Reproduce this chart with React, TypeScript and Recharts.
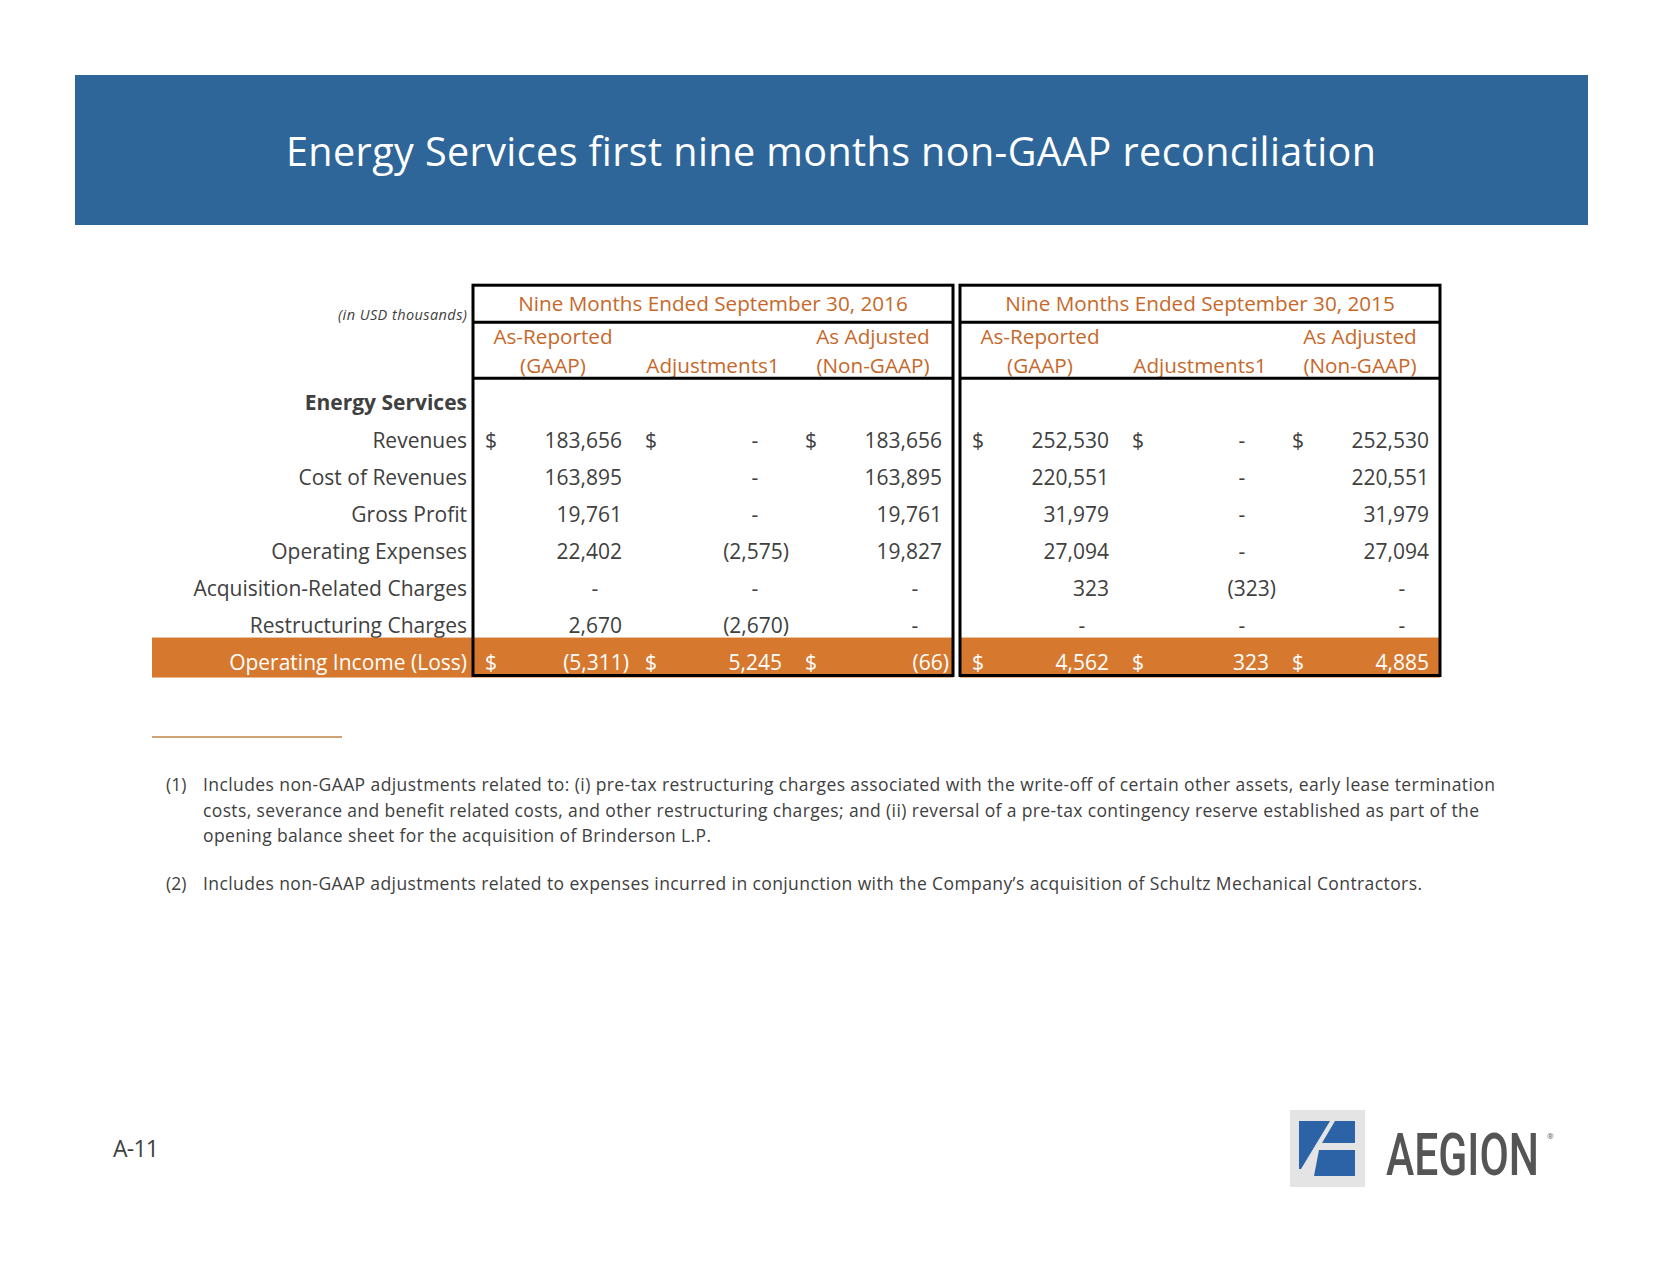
import React from 'react';
import { ScatterChart, Scatter, XAxis, YAxis } from 'recharts';

// ---------- content ----------
const TITLE = 'Energy Services first nine months non-GAAP reconciliation';
const UNITS_NOTE = '(in USD thousands)';
const PERIODS = ['Nine Months Ended September 30, 2016', 'Nine Months Ended September 30, 2015'];
const COLUMN_HEAD_TOP = ['As-Reported', '', 'As Adjusted'];
const COLUMN_HEAD_BOTTOM = ['(GAAP)', 'Adjustments1', '(Non-GAAP)'];
const ROW_LABELS = [
  'Energy Services',
  'Revenues',
  'Cost of Revenues',
  'Gross Profit',
  'Operating Expenses',
  'Acquisition-Related Charges',
  'Restructuring Charges',
  'Operating Income (Loss)',
];
// one value per row (null = blank, 0 = "-")
const Y2016_REPORTED = [null, 183656, 163895, 19761, 22402, 0, 2670, -5311];
const Y2016_ADJUSTMENTS = [null, 0, 0, 0, -2575, 0, -2670, 5245];
const Y2016_ADJUSTED = [null, 183656, 163895, 19761, 19827, 0, 0, -66];
const Y2015_REPORTED = [null, 252530, 220551, 31979, 27094, 323, 0, 4562];
const Y2015_ADJUSTMENTS = [null, 0, 0, 0, 0, -323, 0, 323];
const Y2015_ADJUSTED = [null, 252530, 220551, 31979, 27094, 0, 0, 4885];
const DOLLAR_ROWS = [1, 7];
const SECTION_ROW = 0;
const TOTAL_ROW = 7;
const ROW_TICKS = [0, 1, 2, 3, 4, 5, 6, 7];
const COL_TICKS = [0, 1, 2];

const FOOTNOTE_MARKS = ['(1)', '(2)'];
const FOOTNOTE_1 = [
  'Includes non-GAAP adjustments related to: (i) pre-tax restructuring charges associated with the write-off of certain other assets, early lease termination',
  'costs, severance and benefit related costs, and other restructuring charges; and (ii) reversal of a pre-tax contingency reserve established as part of the',
  'opening balance sheet for the acquisition of Brinderson L.P.',
];
const FOOTNOTE_2 = [
  'Includes non-GAAP adjustments related to expenses incurred in conjunction with the Company\u2019s acquisition of Schultz Mechanical Contractors.',
];
const PAGE_LABEL = 'A-11';
const LOGO_TEXT = 'AEGION';

// ---------- styles ----------
const FONT = "'Open Sans', 'Noto Sans', sans-serif";
const TEXT = '#404040';
const ORANGE = '#D6792F';
const ORANGE_TEXT = '#C5692B';
const BLUE = '#2E6699';
const FS = 21;
const HFS = 20.7;
const COL_W = 160;
const LABEL_W = 321;

type Cell = { c: number; r: number; v: number };

const buildCells = (cols: (number | null)[][]): Cell[] => {
  const out: Cell[] = [];
  cols.forEach((arr, c) =>
    arr.forEach((v, r) => {
      if (v !== null) out.push({ c, r, v });
    })
  );
  return out;
};

const CELLS_2016 = buildCells([Y2016_REPORTED, Y2016_ADJUSTMENTS, Y2016_ADJUSTED]);
const CELLS_2015 = buildCells([Y2015_REPORTED, Y2015_ADJUSTMENTS, Y2015_ADJUSTED]);

const fmt = (v: number) => {
  if (v === 0) return '-';
  const s = Math.abs(v).toLocaleString('en-US');
  return v < 0 ? `(${s})` : s;
};

const CellShape = (props: any) => {
  const { cx, cy, payload } = props;
  if (cx == null || cy == null || !payload) return <g />;
  const { r, v } = payload as Cell;
  const total = r === TOTAL_ROW;
  const fill = total ? '#FFFFFF' : TEXT;
  const x = v === 0 ? cx + 42 : v < 0 ? cx + 76 : cx + 69;
  return (
    <g>
      {total && <rect x={cx - COL_W / 2} y={cy - 25} width={COL_W} height={40} fill={ORANGE} />}
      {DOLLAR_ROWS.includes(r) && (
        <text x={cx - 68} y={cy} dy="0.36em" fontSize={FS} fontFamily={FONT} fill={fill} textAnchor="start">
          $
        </text>
      )}
      <text
        x={x}
        y={cy}
        dy="0.36em"
        fontSize={FS}
        fontFamily={FONT}
        fill={fill}
        textAnchor={v === 0 ? 'middle' : 'end'}
      >
        {fmt(v)}
      </text>
    </g>
  );
};

const RowTick = (props: any) => {
  const { x, y, payload } = props;
  const i = payload.value as number;
  const total = i === TOTAL_ROW;
  return (
    <g>
      {total && <rect x={x + 6 - LABEL_W} y={y - 25} width={LABEL_W} height={40} fill={ORANGE} />}
      <text
        x={x}
        y={y}
        dy="0.36em"
        textAnchor="end"
        fontSize={FS}
        fontFamily={FONT}
        fontWeight={i === SECTION_ROW ? 700 : 400}
        fill={total ? '#FFFFFF' : TEXT}
      >
        {ROW_LABELS[i]}
      </text>
    </g>
  );
};

const HeadTick = (props: any) => {
  const { x, y, payload } = props;
  const i = payload.value as number;
  return (
    <g>
      <text x={x} y={y - 47.5} dy="0.36em" textAnchor="middle" fontSize={HFS} fontFamily={FONT} fill={ORANGE_TEXT}>
        {COLUMN_HEAD_TOP[i]}
      </text>
      <text x={x} y={y - 18.8} dy="0.36em" textAnchor="middle" fontSize={HFS} fontFamily={FONT} fill={ORANGE_TEXT}>
        {COLUMN_HEAD_BOTTOM[i]}
      </text>
    </g>
  );
};

const PeriodTable = ({ cells, withLabels, width }: { cells: Cell[]; withLabels: boolean; width: number }) => (
  <ScatterChart width={width} height={397} margin={{ top: 39.3, right: 0, bottom: 0.9, left: 0 }}>
    <XAxis
      type="number"
      dataKey="c"
      domain={[-0.5, 2.5]}
      ticks={COL_TICKS}
      interval={0}
      allowDataOverflow
      orientation="top"
      height={60}
      tickSize={0}
      tickMargin={0}
      axisLine={false}
      tickLine={false}
      tick={HeadTick}
    />
    <YAxis
      type="number"
      dataKey="r"
      domain={[-0.5, 7.5]}
      reversed
      ticks={ROW_TICKS}
      interval={0}
      allowDataOverflow
      hide={!withLabels}
      width={LABEL_W}
      tickSize={0}
      tickMargin={6}
      axisLine={false}
      tickLine={false}
      tick={RowTick}
    />
    <Scatter data={cells} shape={CellShape} isAnimationActive={false} />
  </ScatterChart>
);

export default function App() {
  return (
    <div
      style={{
        position: 'absolute',
        left: 0,
        top: 0,
        width: 1662,
        height: 1275,
        background: '#FFFFFF',
        overflow: 'hidden',
        fontFamily: FONT,
      }}
    >
      <div style={{ position: 'absolute', left: 152, top: 285 }}>
        <PeriodTable cells={CELLS_2016} withLabels width={801} />
      </div>
      <div style={{ position: 'absolute', left: 960, top: 285 }}>
        <PeriodTable cells={CELLS_2015} withLabels={false} width={480} />
      </div>

      <svg
        width={1662}
        height={1275}
        style={{ position: 'absolute', left: 0, top: 0, pointerEvents: 'none' }}
        fontFamily={FONT}
      >
        {/* banner */}
        <rect x={75} y={75} width={1513} height={150} fill={BLUE} />
        <text x={831} y={166} textAnchor="middle" fontSize={39.5} fill="#FFFFFF" textLength={1090} lengthAdjust="spacing">
          {TITLE}
        </text>

        {/* table frames */}
        {[473, 960].map((x0) => (
          <g key={x0}>
            <rect x={x0} y={285.2} width={480} height={390.3} fill="none" stroke="#000" strokeWidth={3} />
            <line x1={x0} x2={x0 + 480} y1={322.3} y2={322.3} stroke="#000" strokeWidth={3} />
            <line x1={x0} x2={x0 + 480} y1={378.3} y2={378.3} stroke="#000" strokeWidth={3} />
          </g>
        ))}
        <text x={713} y={304} dy="0.36em" textAnchor="middle" fontSize={HFS} fill={ORANGE_TEXT}>
          {PERIODS[0]}
        </text>
        <text x={1200} y={304} dy="0.36em" textAnchor="middle" fontSize={HFS} fill={ORANGE_TEXT}>
          {PERIODS[1]}
        </text>
        <text
          x={467}
          y={314.5}
          dy="0.36em"
          textAnchor="end"
          fontSize={14.5}
          fontStyle="italic"
          fill={TEXT}
          textLength={129}
          lengthAdjust="spacing"
        >
          {UNITS_NOTE}
        </text>

        {/* footnotes */}
        <line x1={152} x2={342} y1={737} y2={737} stroke="#CFA274" strokeWidth={2} />
        <text x={166} y={790.7} fontSize={17.5} fill={TEXT}>
          {FOOTNOTE_MARKS[0]}
        </text>
        <text x={203} y={790.7} fontSize={17.5} fill={TEXT} textLength={1292} lengthAdjust="spacing">
          {FOOTNOTE_1[0]}
        </text>
        <text x={203} y={816.5} fontSize={17.5} fill={TEXT} textLength={1276} lengthAdjust="spacing">
          {FOOTNOTE_1[1]}
        </text>
        <text x={203} y={842.3} fontSize={17.5} fill={TEXT} textLength={508} lengthAdjust="spacing">
          {FOOTNOTE_1[2]}
        </text>
        <text x={166} y={890} fontSize={17.5} fill={TEXT}>
          {FOOTNOTE_MARKS[1]}
        </text>
        <text x={203} y={890} fontSize={17.5} fill={TEXT} textLength={1219} lengthAdjust="spacing">
          {FOOTNOTE_2[0]}
        </text>

        {/* page label */}
        <text x={113} y={1157} fontSize={23} fill={TEXT} textLength={46} lengthAdjust="spacing">
          {PAGE_LABEL}
        </text>

        {/* logo */}
        <rect x={1290} y={1110} width={75} height={77} fill="#E4E4E4" />
        <polygon points="1299,1121 1330,1121 1301,1169 1299,1169" fill="#2B63A6" />
        <polygon points="1335,1121 1355,1121 1355,1143 1322,1143" fill="#2B63A6" />
        <polygon points="1319,1150 1355,1150 1355,1176 1314,1176" fill="#2B63A6" />
        <g transform="translate(1386,1175) scale(1,1.4)">
          <text
            x={0}
            y={0}
            fontSize={42.5}
            fontWeight={500}
            fontFamily="Roboto, 'Liberation Sans', sans-serif"
            fill="#555555"
            textLength={153}
            lengthAdjust="spacingAndGlyphs"
          >
            {LOGO_TEXT}
          </text>
        </g>
        <text x={1547} y={1139} fontSize={8} fill="#555555">
          {'\u00AE'}
        </text>
      </svg>
    </div>
  );
}
